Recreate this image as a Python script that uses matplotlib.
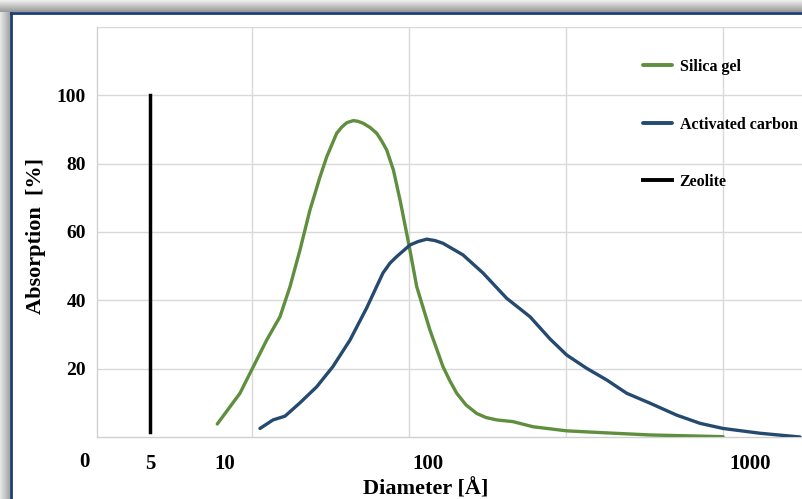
import numpy as np
import matplotlib
matplotlib.use("Agg")
import matplotlib.pyplot as plt
from matplotlib.patches import Rectangle
from matplotlib.lines import Line2D

# ---------------- data ----------------
silica_d = [9.31, 11.85, 13.79, 16.05, 18.66, 20.9, 23.4, 26.2, 29.4, 31.7, 35.5, 37.6, 39.8,
            42.9, 45.2, 48.0, 51.8, 55.9, 59.2, 62.6, 67.5, 72.8, 78.5, 80.9, 88.0, 101.4,
            111.3, 117.0, 122.8, 131.2, 141.6, 151.4, 163.4, 183.6, 211.9, 269.6, 342.0,
            489.1, 824.6]
silica_y = [3.8, 12.8, 20.6, 28.4, 35.2, 44.0, 54.7, 66.4, 76.2, 82.0, 88.9, 90.7, 92.0,
            92.6, 92.4, 91.8, 90.6, 88.9, 86.6, 84.0, 78.2, 69.4, 59.6, 55.7, 44.0, 31.3,
            20.6, 16.4, 12.8, 9.4, 6.9, 5.7, 5.0, 4.5, 3.0, 1.8, 1.3,
            0.6, 0.1]

carbon_d = [14.87, 17.24, 19.75, 23.4, 28.3, 34.0, 41.3, 49.9, 54.8, 60.0, 65.0, 70.1, 81.5,
            89.3, 98.5, 105.1, 111.3, 128.4, 148.2, 175.5, 207.4, 239.3, 269.6, 311.0, 358.9,
            414.1, 489.1, 592.1, 699.5, 824.6, 1074, 1430]
carbon_y = [2.5, 5.0, 6.1, 10.0, 14.7, 20.6, 28.4, 37.8, 43.0, 48.0, 50.9, 52.8, 56.2,
            57.2, 57.9, 57.5, 56.7, 53.3, 48.0, 40.6, 35.2, 28.7, 24.0, 20.1, 16.7,
            12.8, 9.9, 6.4, 4.0, 2.5, 1.1, 0.0]

zeolite_d = [5, 5]
zeolite_y = [1.6, 100]

x_tick_values = [5, 10, 100, 1000]
x_tick_labels = ["5", "10", "100", "1000"]
y_tick_values = [20, 40, 60, 80, 100, 120]
y_tick_labels = ["20", "40", "60", "80", "100", ""]

series_names = ["Silica gel", "Activated carbon", "Zeolite"]
series_colors = ["#5f8f3e", "#254a70", "#000000"]

# ---------------- custom diameter axis (piecewise, as in the source) ----------------
W, H = 802, 499
anc_log = np.log10([5, 10, 100, 1000, 10000])
anc_pos = np.array([150, 225, 428, 750, 1072], float)


def fwd(d):
    d = np.asarray(d, float)
    lo = np.log10(np.clip(d, 1e-9, None))
    return np.where(d < 5, 84 + d * (66 / 5), np.interp(lo, anc_log, anc_pos))


def inv(p):
    p = np.asarray(p, float)
    return np.where(p < 150, (p - 84) * 5 / 66, 10 ** np.interp(p, anc_pos, anc_log))


serif = ["Liberation Serif", "DejaVu Serif"]
plt.rcParams["font.family"] = serif

fig = plt.figure(figsize=(W / 100, H / 100), dpi=100)
fig.patch.set_facecolor("white")

# frame with soft shadow (top and left) and navy border
for i in range(12):
    g = 0.93 - 0.03 * i
    fig.patches.append(Rectangle((0, (H - i) / H - 1 / H), 1, 1 / H, transform=fig.transFigure,
                                 facecolor=(g, g, g), edgecolor="none", zorder=0))
for i in range(10):
    g = 0.90 - 0.028 * i
    fig.patches.append(Rectangle((i / W, 0), 1 / W, (H - 12) / H, transform=fig.transFigure,
                                 facecolor=(g, g, g), edgecolor="none", zorder=0))
fig.add_artist(Line2D([10.5 / W, 10.5 / W], [0, (H - 12.5) / H], transform=fig.transFigure,
                      color="#1d3c78", lw=2.0, zorder=1))
fig.add_artist(Line2D([10.5 / W, 1], [(H - 12.5) / H, (H - 12.5) / H], transform=fig.transFigure,
                      color="#1d3c78", lw=2.0, zorder=1))

ax = fig.add_axes([97 / W, (H - 437) / H, (W - 97) / W, 410 / H])
ax.set_xscale("function", functions=(fwd, inv))
ax.set_xlim(float(inv(97)), float(inv(W)))
ax.set_ylim(0, 120)

line_kw = dict(solid_capstyle="round", solid_joinstyle="round", zorder=3)
ax.plot(silica_d, silica_y, color=series_colors[0], lw=2.4, label=series_names[0], **line_kw)
ax.plot(carbon_d, carbon_y, color=series_colors[1], lw=2.4, label=series_names[1], **line_kw)
ax.plot(zeolite_d, zeolite_y, color=series_colors[2], lw=2.5, label=series_names[2], zorder=3)

# ticks / grid
ax.set_xticks(x_tick_values)
ax.set_xticklabels(x_tick_labels)
grid_x = inv([252, 409, 566, 723])
ax.set_xticks(grid_x, minor=True)
ax.set_yticks(y_tick_values)
ax.set_yticklabels(y_tick_labels)
ax.xaxis.grid(True, which="minor", color="#d9d9d9", lw=1.0)
ax.xaxis.grid(False, which="major")
ax.yaxis.grid(True, which="major", color="#d9d9d9", lw=1.0)
ax.set_axisbelow(True)
ax.tick_params(axis="both", which="both", length=0)
ax.tick_params(axis="x", pad=12, labelsize=15)
ax.tick_params(axis="y", pad=8, labelsize=14)
for lab in ax.get_xticklabels() + ax.get_yticklabels():
    lab.set_fontweight("bold")
ax.text(0, -25 / 410, "0", transform=ax.get_xaxis_transform(), ha="center", va="center",
        fontsize=15, fontweight="bold", clip_on=False)

for s in ["top", "right"]:
    ax.spines[s].set_visible(False)
for s in ["left", "bottom"]:
    ax.spines[s].set_color("#d0d0d0")
    ax.spines[s].set_linewidth(1.0)

ax.set_xlabel("Diameter [Å]", fontsize=16, fontweight="bold")
ax.set_ylabel("Absorption  [%]", fontsize=16, fontweight="bold")
ax.xaxis.set_label_coords((426 - 97) / (W - 97), -(479 - 437) / 410)
ax.yaxis.set_label_coords(-(97 - 46) / (W - 97), (437 - 236) / 410)

leg = ax.legend(loc="upper left", bbox_to_anchor=(643 / W, (H - 59) / H),
                bbox_transform=fig.transFigure, frameon=False, borderpad=0,
                borderaxespad=0, handlelength=1.8, handletextpad=0.5,
                labelspacing=2.6, prop={"family": serif, "weight": "bold", "size": 11.5})
for line in leg.get_lines():
    line.set_linewidth(2.8)

fig.savefig("out.png", dpi=100, facecolor=fig.get_facecolor())
